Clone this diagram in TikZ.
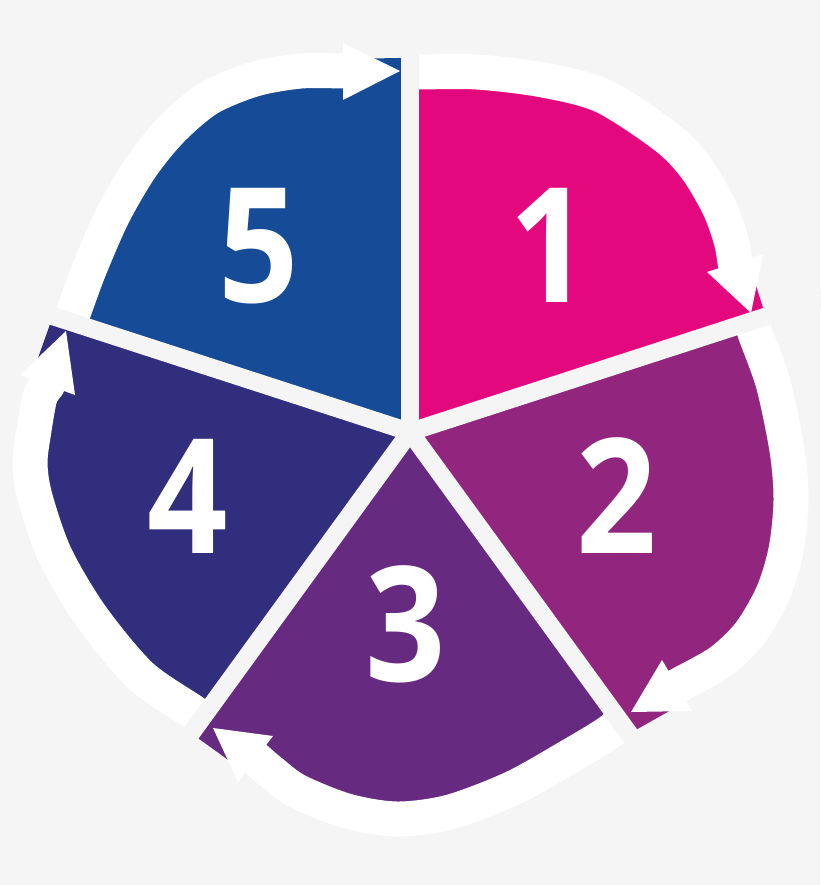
\documentclass[tikz,border=0pt]{standalone}
\usepackage{fontspec}
\newfontfamily\digitfont{Open Sans}
\definecolor{bg}{HTML}{F5F5F5}
\definecolor{pinkc}{HTML}{E4087E}
\definecolor{magc}{HTML}{92267F}
\definecolor{purc}{HTML}{662A81}
\definecolor{indc}{HTML}{322E7E}
\definecolor{bluc}{HTML}{154B97}
\begin{document}
\begin{tikzpicture}[x=1pt,y=-1pt,
  whiteshaft/.style={draw=white, line width=35pt},
  gapline/.style={draw=bg, line width=18pt},
  numlabel/.style={text=white, inner sep=0pt, xscale=0.88, transform shape, font=\digitfont\bfseries\fontsize{160}{160}\selectfont}]
\fill[bg] (0,0) rectangle (820,885);
\useasboundingbox (0,0) rectangle (820,885);
\coordinate (C) at (410,432);

% Sector 1 (pink)
\begin{scope}
\clip (C) -- (410,-168) -- (763,-53) -- (981,247) -- cycle;
\fill[pinkc] (C) -- plot[smooth] coordinates {(400,72) (420,72) (477,72) (543,80) (603,96) (666,137) (696,168) (719,207) (731,240) (735,262) (751,313) (758,335)} -- cycle;
\draw[pinkc, line width=26pt] (735,262) -- (751,313) -- (758,335);
\draw[whiteshaft] plot[smooth] coordinates {(400,72) (420,72) (477,72) (543,80) (603,96) (666,137) (696,168) (719,207) (731,240) (735,262) (736,268)};
\fill[white] (707,272) -- (751,313) -- (763,254) -- cycle;
\end{scope}

% Sector 2 (magenta)
\begin{scope}
\clip (C) -- (981,247) -- (981,617) -- (763,917) -- cycle;
\fill[magc] (C) -- plot[smooth] coordinates {(752,314) (754,330) (773,383) (787,450) (791,500) (786,550) (773,593) (750,633) (720,662) (677,686) (631,712) (610,724)} -- cycle;
\draw[magc, line width=36pt] (677,686) -- (631,712) -- (610,724);
\draw[whiteshaft] plot[smooth] coordinates {(752,314) (754,330) (773,383) (787,450) (791,500) (786,550) (773,593) (750,633) (720,662) (677,686) (672,689)};
\fill[white] (662,660) -- (631,712) -- (692,711) -- cycle;
\end{scope}

% Sector 3 (purple)
\begin{scope}
\clip (C) -- (763,917) -- (410,1032) -- (57,917) -- cycle;
\fill[purc] (C) -- plot[smooth] coordinates {(628,716) (608,733) (570,756) (513,788) (450,812) (397,819) (347,811) (297,791) (270,771) (256,759) (213,728) (192,713)} -- cycle;
\draw[purc, line width=34pt] (256,759) -- (213,728) -- (192,713);
\draw[whiteshaft] plot[smooth] coordinates {(628,716) (608,733) (570,756) (513,788) (450,812) (397,819) (347,811) (297,791) (270,771) (256,759) (252,756)};
\fill[white] (273,736) -- (213,728) -- (238,782) -- cycle;
\end{scope}

% Sector 4 (indigo)
\begin{scope}
\clip (C) -- (57,917) -- (-161,617) -- (-161,247) -- cycle;
\fill[indc] (C) -- plot[smooth] coordinates {(205,725) (196,714) (141,676) (91,616) (55,555) (35,497) (30,463) (34,430) (40,397) (47.5,385) (66,333) (71,318)} -- cycle;
\draw[indc, line width=36pt] (47.5,385) -- (66,333) -- (71,318);
\draw[whiteshaft] plot[smooth] coordinates {(205,725) (196,714) (141,676) (91,616) (55,555) (35,497) (30,463) (34,430) (40,397) (47.5,385) (49,381)};
\fill[white] (20,375) -- (66,331) -- (75,395) -- cycle;
\end{scope}

% Sector 5 (blue)
\begin{scope}
\clip (C) -- (-161,247) -- (57,-53) -- (410,-168) -- cycle;
\fill[bluc] (C) -- plot[smooth] coordinates {(64,332) (72,316) (89,270) (113,215) (141,167) (172,129) (209,98) (255,79) (301,71) (343,71) (399,70) (430,70)} -- cycle;
\draw[bluc, line width=24pt] (343,71) -- (399,70) -- (430,70);
\draw[whiteshaft] plot[smooth] coordinates {(64,332) (72,316) (89,270) (113,215) (141,167) (172,129) (209,98) (255,79) (301,71) (343,71) (349,71)};
\fill[white] (343,43) -- (400,71) -- (343,100) -- cycle;
\end{scope}

% gaps
\draw[gapline] (C) -- (410,-38);
\draw[gapline] (C) -- (857,287);
\draw[gapline] (C) -- (686,812);
\draw[gapline] (C) -- (134,812);
\draw[gapline] (C) -- (-37,287);

% numbers
\node[numlabel] (n1) at (550,245) {1};
\node[numlabel] (n2) at (617,496) {2};
\node[numlabel] (n3) at (406,624) {3};
\node[numlabel] (n4) at (188,496) {4};
\node[numlabel] (n5) at (259,246) {5};
\end{tikzpicture}
\end{document}
